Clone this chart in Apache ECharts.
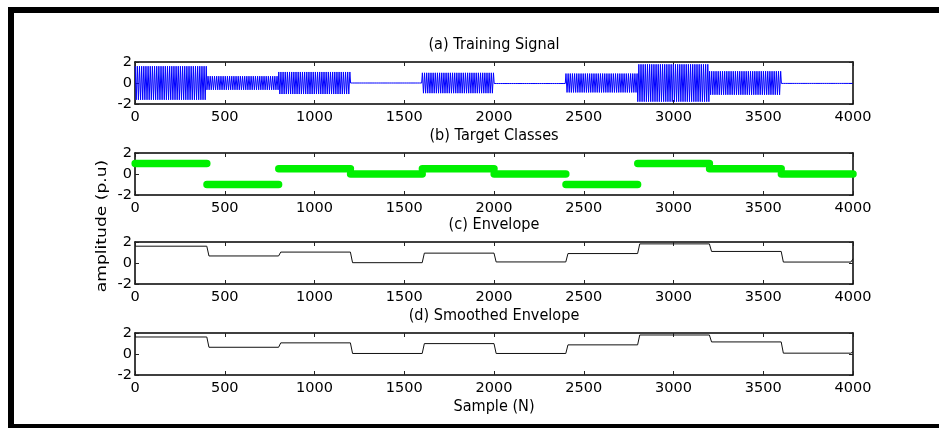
<!DOCTYPE html>
<html>
<head>
<meta charset="utf-8">
<title>Training signal, target classes and envelopes</title>
<script src="https://cdn.jsdelivr.net/npm/echarts@6/dist/echarts.min.js"></script>
<style>
  html, body { margin: 0; padding: 0; background: #fff; }
  #chart { width: 939px; height: 428px; }
</style>
</head>
<body>
<div id="chart"></div>
<script>
// Sample axis and amplitude axis
const sampleTicks = [0, 500, 1000, 1500, 2000, 2500, 3000, 3500, 4000];
const amplitudeTicks = [-2, 0, 2];

// Ten segments of 400 samples each
const segmentStarts = [0, 400, 800, 1200, 1600, 2000, 2400, 2800, 3200, 3600];
const segmentLength = 400;

// (a) peak amplitude of the training signal in each segment
const signalPeaks = [1.6, 0.65, 1.05, 0.0, 0.97, 0.05, 0.9, 1.78, 1.12, 0.04];
// (b) target class level in each segment
const classLevels = [1, -1, 0.5, 0, 0.5, 0, -1, 1, 0.5, 0];
// (c) envelope level in each segment, plus the value reached at the last sample
const envelopeLevels = [1.6, 0.67, 1.04, 0.03, 0.94, 0.1, 0.9, 1.82, 1.1, 0.09];
const envelopeLast = 0.4;
// (d) smoothed envelope level in each segment, plus its last sample
const smoothedLevels = [1.62, 0.64, 1.06, 0.05, 0.99, 0.05, 0.87, 1.81, 1.15, 0.08];
const smoothedLast = 0.22;

const titles = ['(a) Training Signal', '(b) Target Classes', '(c) Envelope', '(d) Smoothed Envelope'];

// ---- series builders ----
const HALF_PERIOD = 6;   // samples between successive carrier peaks
const RAMP = 12;         // samples taken by an envelope step

function carrierPoints() {
  const pts = [];
  let sign = 1;
  segmentStarts.forEach((s, i) => {
    const a = signalPeaks[i];
    for (let n = s + 1; n <= s + segmentLength; n += HALF_PERIOD) {
      pts.push([n, sign * a]);
      sign = -sign;
    }
  });
  return pts;
}

function classPoints() {
  const pts = [];
  segmentStarts.forEach((s, i) => {
    pts.push([s + 1, classLevels[i]]);
    pts.push([s + segmentLength, classLevels[i]]);
    pts.push([s + segmentLength, null]);
  });
  return pts;
}

function stepPoints(levels, last) {
  const pts = [];
  segmentStarts.forEach((s, i) => {
    pts.push([i === 0 ? 1 : s + RAMP, levels[i]]);
    pts.push([s + segmentLength - (i === levels.length - 1 ? RAMP : 0), levels[i]]);
  });
  pts.push([4000, last]);
  return pts;
}

// ---- layout ----
const FONT = 'DejaVu Sans';
const FONT_SIZE = 14.5;
const gridTops = [62, 153, 242, 333];
const GRID_LEFT = 135, GRID_W = 718, GRID_H = 42;

const grids = gridTops.map(t => ({ left: GRID_LEFT, top: t, width: GRID_W, height: GRID_H, show: false }));

const plainNumber = v => String(v);

const xAxes = [];
const yAxes = [];
gridTops.forEach((t, g) => {
  const common = {
    type: 'value', gridIndex: g, min: sampleTicks[0], max: sampleTicks[sampleTicks.length - 1],
    interval: sampleTicks[1] - sampleTicks[0],
    axisLine: { show: true, onZero: false, lineStyle: { color: '#000', width: 1.5 } },
    axisTick: { show: true, inside: true, length: 4, lineStyle: { color: '#222', width: 1 } },
    splitLine: { show: false }
  };
  xAxes.push(Object.assign({}, common, {
    position: 'bottom',
    axisLabel: { show: true, color: '#000', fontFamily: FONT, fontSize: FONT_SIZE, margin: 6, formatter: plainNumber }
  }));
  xAxes.push(Object.assign({}, common, { position: 'top', axisLabel: { show: false } }));

  const ycommon = {
    type: 'value', gridIndex: g, min: amplitudeTicks[0], max: amplitudeTicks[amplitudeTicks.length - 1],
    interval: amplitudeTicks[1] - amplitudeTicks[0],
    axisLine: { show: true, onZero: false, lineStyle: { color: '#000', width: 1.5 } },
    axisTick: { show: true, inside: true, length: 4, lineStyle: { color: '#222', width: 1 } },
    splitLine: { show: false }
  };
  yAxes.push(Object.assign({}, ycommon, {
    position: 'left',
    axisLabel: { show: true, color: '#000', fontFamily: FONT, fontSize: FONT_SIZE, margin: 3, formatter: plainNumber }
  }));
  yAxes.push(Object.assign({}, ycommon, { position: 'right', axisLabel: { show: false } }));
});

const series = [
  {
    type: 'line', xAxisIndex: 0, yAxisIndex: 0, data: carrierPoints(),
    showSymbol: false, sampling: null, clip: true,
    lineStyle: { color: '#0000ff', width: 1 }
  },
  {
    type: 'line', xAxisIndex: 2, yAxisIndex: 2, data: classPoints(),
    showSymbol: false, connectNulls: false, clip: false,
    lineStyle: { color: '#00f000', width: 7.5, cap: 'round' }
  },
  {
    type: 'line', xAxisIndex: 4, yAxisIndex: 4, data: stepPoints(envelopeLevels, envelopeLast),
    showSymbol: false, lineStyle: { color: '#111', width: 1 }
  },
  {
    type: 'line', xAxisIndex: 6, yAxisIndex: 6, data: stepPoints(smoothedLevels, smoothedLast),
    showSymbol: false, lineStyle: { color: '#111', width: 1 }
  }
];

const titleY = [45, 136, 225, 316];
const makeText = (x, y, text, extra) => Object.assign({
  type: 'text', x: x, y: y,
  style: { text: text, fill: '#000', font: FONT_SIZE + 'px "' + FONT + '"', textAlign: 'center', textVerticalAlign: 'middle' }
}, extra || {});

const graphic = [
  // figure frame
  { type: 'rect', shape: { x: 8, y: 7, width: 931, height: 6 }, style: { fill: '#000' } },
  { type: 'rect', shape: { x: 8, y: 7, width: 6, height: 421 }, style: { fill: '#000' } },
  { type: 'rect', shape: { x: 8, y: 424, width: 931, height: 4 }, style: { fill: '#000' } }
];
titles.forEach((t, i) => graphic.push(makeText(GRID_LEFT + GRID_W / 2, titleY[i], t, { scaleY: 1.12 })));
graphic.push(makeText(GRID_LEFT + GRID_W / 2, 407, 'Sample (N)', { scaleY: 1.12 }));
graphic.push(makeText(102, 226, 'amplitude (p.u)', { rotation: Math.PI / 2, scaleX: 1.18 }));

const chart = echarts.init(document.getElementById('chart'), null, { renderer: 'canvas' });
chart.setOption({
  animation: false,
  backgroundColor: '#fff',
  grid: grids,
  xAxis: xAxes,
  yAxis: yAxes,
  series: series,
  graphic: graphic
});
</script>
</body>
</html>
